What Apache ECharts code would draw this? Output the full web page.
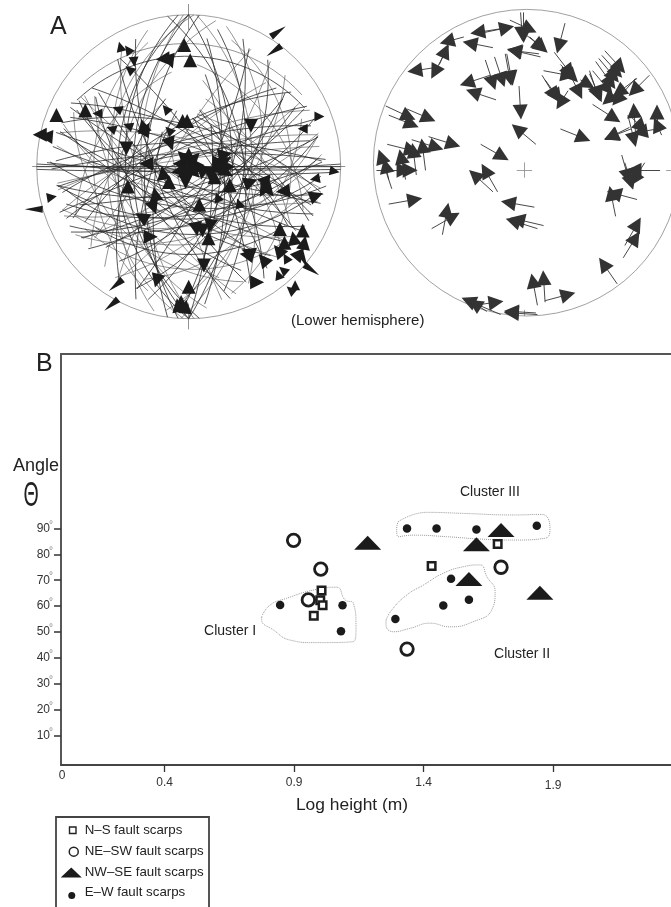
<!DOCTYPE html>
<html><head><meta charset="utf-8">
<style>html,body{margin:0;padding:0;background:#fff}#c{width:671px;height:907px}</style>
<script src="https://cdn.jsdelivr.net/npm/echarts@6/dist/echarts.min.js"></script>
</head><body><div id="c"></div>
<script>
// Panel B: [log height (m), angle theta (deg)]
const nsScarps = [[1.006,66],[1.001,62.3],[1.01,60.3],[0.976,56.3],[1.431,75.5],[1.686,84]];
const neswScarps = [[0.898,85.4],[1.003,74.3],[0.955,62.4],[1.699,75],[1.336,43.4]];
const nwseScarps = [[1.184,84.5],[1.699,89.4],[1.604,83.9],[1.575,70.5],[1.849,65.2]];
const ewScarps = [[0.846,60.4],[1.087,60.3],[1.081,50.3],[1.291,55],[1.476,60.2],[1.575,62.5],[1.506,70.6],[1.336,90],[1.45,90],[1.604,89.6],[1.837,91]];
const clusterI = [[.775,55.9],[.807,60.4],[.871,63],[.974,66.2],[1.064,67.3],[1.097,62.4],[1.129,61.1],[1.139,52],[1.129,46.3],[.974,45.9],[.884,46.9],[.82,50.8],[.775,54.6],[.775,55.9]];
const clusterII = [[1.255,54.6],[1.277,58.5],[1.335,64.3],[1.399,68.1],[1.476,72.7],[1.553,75.2],[1.618,75.9],[1.644,71.4],[1.676,65.6],[1.663,58.5],[1.592,54],[1.502,52],[1.425,53.4],[1.347,51.4],[1.283,50.1],[1.255,52.7],[1.255,54.6]];
const clusterIII = [[1.302,92.6],[1.412,96.2],[1.553,95.8],[1.746,95.2],[1.856,95.4],[1.888,90],[1.869,86.2],[1.746,85.5],[1.618,85.9],[1.489,86.8],[1.36,87.4],[1.302,86.8],[1.296,90],[1.302,92.6]];
const clusterLabels = [[0.653,50.4,'Cluster I'],[1.78,41.5,'Cluster II'],[1.656,104,'Cluster III']];
const angleTicks = [10,20,30,40,50,60,70,80,90];
const heightTicks = [0.4,0.9,1.4,1.9];
const heightLabels = [0,0.4,0.9,1.4,1.9];
const legendNames = ['N–S fault scarps','NE–SW fault scarps','NW–SE fault scarps','E–W fault scarps'];

// Panel A left: fault planes [strike, dip, rake from, rake to] in lower hemisphere
const planesDark = [
 [90,90,0,180],[91,88,0,180],[89,87,0,180],[92,85,4,176],
 [180,50,0,180],[180,40,0,180],[184,58,0,180],[176,45,0,180],[0,58,0,180],[0,72,60,180],[4,66,10,176],[356,64,30,176],[352,50,0,170],[8,50,6,176],[188,66,0,115],
 [105,85,6,174],[108,70,8,172],[112,60,10,170],[100,75,6,174],[118,80,8,172],[122,65,12,170],[128,55,16,168],[135,70,20,165],[140,50,20,160],
 [285,60,8,172],[290,75,10,170],[295,65,8,172],[300,55,78,170],[305,70,12,168],[310,60,70,165],
 [60,70,10,172],[65,60,8,172],[70,50,10,170],[75,75,8,165],[80,55,12,168],[55,65,14,170],[50,75,16,165],[45,60,15,165],
 [240,60,12,168],[245,75,8,172],[250,85,6,174],[255,70,10,170],[260,80,8,170],[235,65,16,165],
 [90,30,35,145],[88,52,10,170],[92,42,15,165],[95,60,6,174],[85,68,8,172],[270,72,8,172],[268,80,6,174],[272,18,30,150],
 [20,60,6,174],[25,75,8,172],[30,50,10,170],[200,65,4,124],[205,50,8,124],[150,70,10,170],[160,65,6,174],[330,60,60,172],[335,70,60,175],[325,75,10,170]
];
const planesLight = [
 [178,55,0,180],[182,34,0,180],[3,45,0,180],[12,40,4,176],[192,42,2,178],[168,38,6,174],
 [102,68,8,172],[115,52,10,170],[125,78,10,172],[130,62,12,168],[145,40,25,160],[282,70,8,172],[292,52,82,170],[315,45,67,160],
 [58,78,10,172],[68,42,12,168],[72,64,8,172],[78,48,10,170],[83,36,20,160],[248,68,8,172],[258,76,8,172],[262,84,8,172],[228,72,15,165],
 [35,70,8,172],[40,50,10,170],[210,75,8,172],[215,60,10,116],[220,45,15,114],[155,55,8,172],[165,80,6,120],[320,55,65,170],[340,50,41,172],
 [94,22,35,145],[0,22,20,160],[180,26,20,160],[274,12,35,145],[225,30,25,124],[315,28,53,155],[135,28,22,160],[45,30,25,155]
];
// Panel A left: arrowheads [east, north, rotation deg] in percent of net radius
const headsLarge = [
 [-3,80,0],[1,70,0],[-17,71,95],[-12,69,200],[-87,34,0],[-68,37,0],[-4,30,0],[-1,30,0],[-30,27,15],[-28,25,-30],[41,27,180],[-98,21,90],[-94,20,85],
 [-12,15,200],[-41,12,180],[-28,2,90],[24,8,-80],[-17,-4,10],[-13,-10,0],[-40,-13,0],[-2,-10,180],[27,-12,0],[41,-10,-70],[-22,-18,10],
 [51,-11,200],[49,-16,150],[53,-16,220],[62,-16,95],[84,-19,-70],[-23,-27,200],[-31,-33,60],[7,-25,0],[-25,-46,-90],[13,-47,0],[9,-42,180],[14,-39,170],[5,-41,190],
 [10,-65,180],[60,-41,0],[75,-42,0],[69,-47,10],[76,-50,-10],[63,-50,0],[59,-55,40],[38,-58,80],[39,-56,70],[49,-61,40],[73,-57,-40],[45,-76,-90],[-21,-75,165],[0,-79,0],[-5,-89,0],[-7,-91,10],[-2,-92,-5],
 [-6,2,90],[-4,7,45],[0,8,0],[4,6,-45],[6,1,-90],[4,-4,-135],[0,-5,180],[-4,-4,135],[-1,2,0],[2,3,-30],[-3,-1,120],[-7,-3,100],[5,-2,-100],
 [20,3,-90],[24,4,-60],[26,0,-90],[22,-2,-120],[18,-1,90],[25,-4,-120],[14,-5,180],[9,-4,170],[17,-7,0]
];
const headsSmall = [
 [-45,79,15],[-40,77,35],[-36,69,185],[-39,64,50],[-60,35,90],[-47,38,70],[-15,38,40],[-51,25,70],[-40,27,70],[75,25,90],[86,33,-90],[-13,24,45],
 [83,-8,100],[96,-3,-100],[-90,-20,-80],[19,-20,20],[33,-24,20],[64,-60,30],[62,-68,50],[59,-71,20],[70,-78,0],[67,-81,50]
];
const headsSlender = [[-102,-28,90],[59,89,-55],[56,76,125],[-48,-78,130],[-51,-91,130],[81,-68,-125],[76,-62,-155]];
const leftTicks = [[[-103,0],[103,0]],[[0,107],[0,90]],[[0,-90],[0,-107]]];

// Panel A right: slip arrows [tail east, tail north, head east, head north]
const slipArrows = [
 [-2,98,-2,83],[-4,98,-3,84],[-11,93,2,87],[-32,84,-13,88],[-13,88,-32,85],[2,82,10,75],[0,83,9,76],[-41,82,-52,79],[-22,75,-37,78],[9,69,-8,73],[8,71,-8,73],[25,91,21,76],
 [-57,64,-53,73],[-60,62,-73,60],[-51,76,-60,59],[-27,67,-22,52],[-21,69,-16,54],[-14,71,-11,55],[-13,71,-10,55],[-24,57,-39,52],[-20,41,-35,46],[-5,50,-4,33],[6,12,-6,22],
 [18,72,28,59],[22,64,30,56],[11,60,27,57],[10,57,18,44],[12,54,20,43],[27,47,22,39],[30,54,34,46],[35,54,40,51],[41,60,46,45],
 [51,73,61,62],[49,70,59,59],[47,68,57,56],[45,66,55,52],[43,60,53,48],[41,58,47,44],[80,57,70,47],[72,55,60,46],[71,55,59,41],[63,50,53,41],
 [43,38,57,29],[22,22,37,16],[68,22,55,17],[67,23,55,17],[66,31,70,15],[71,19,70,34],[68,30,75,23],[85,22,85,33],[88,18,85,25],[85,22,74,20],
 [-92,37,-77,30],[-78,35,-64,29],[-90,31,-75,25],[-75,15,-59,10],[-64,17,-48,12],[-91,12,-75,8],[-66,-5,-68,11],[-72,-8,-74,8],[-79,-11,-82,4],[-88,-17,-95,4],[-90,-11,-92,-2],[-98,-5,-80,-5],[-85,-5,-76,-5],
 [-30,12,-16,4],[-19,-19,-27,-5],[-22,-19,-34,-8],[-90,-27,-73,-24],[5,-29,-12,-26],[11,-41,-6,-37],[7,-43,-9,-38],[-62,-43,-48,-35],[-55,-47,-52,-31],
 [87,-5,70,-5],[77,0,70,-11],[62,5,66,-9],[64,0,68,-13],[72,-24,57,-20],[58,-35,55,-20],[64,-54,72,-40],[63,-62,71,-49],[59,-79,50,-66],
 [7,-93,4,-77],[12,-91,11,-75],[12,-90,27,-86],[-17,-99,-38,-90],[-26,-97,-34,-92],[-34,-93,-20,-91],[7,-99,-10,-98],[6,-98,-10,-97]
];
const rightTicks = [[[-6.5,-4.8],[3.5,-4.8]],[[-1.5,0.2],[-1.5,-9.8]],[[91,-4.8],[94,-4.8]],[[-1.5,-100],[-1.5,-96]]];

function planeToLine(p){
  const s=p[0]*Math.PI/180,d=p[1]*Math.PI/180,pts=[];
  for(let r=p[2];r<=p[3];r+=4){
    const a=r*Math.PI/180,c=Math.cos(a),n=Math.sin(a);
    const e=Math.sin(s)*c+Math.cos(s)*Math.cos(d)*n;
    const no=Math.cos(s)*c-Math.sin(s)*Math.cos(d)*n;
    const dn=Math.sin(d)*n;
    pts.push([100*e/(1+dn),100*no/(1+dn)]);
  }
  return {coords:pts};
}
const FONT='"Liberation Sans",Arial,sans-serif';
const hidden=(i,mn,mx)=>({gridIndex:i,type:'value',min:mn,max:mx,show:false,splitLine:{show:false}});
const rotHead=v=>v[2];
const headSeries=(data,size)=>({type:'scatter',xAxisIndex:0,yAxisIndex:0,data,symbol:'triangle',symbolSize:size,symbolRotate:rotHead,encode:{x:0,y:1},itemStyle:{color:'#1b1b1b',opacity:1},silent:true,z:5});
const ring=(i,r)=>({type:'scatter',xAxisIndex:i,yAxisIndex:i,data:[[0,0]],symbol:'circle',symbolSize:r*2,itemStyle:{color:'transparent',borderColor:'#8a8a8a',borderWidth:1},silent:true,z:1,clip:false});
const net=(i,data,color,width,extra)=>Object.assign({type:'lines',coordinateSystem:'cartesian2d',xAxisIndex:i,yAxisIndex:i,data,silent:true,lineStyle:{color,width,opacity:1,curveness:0}},extra||{});
const dotted=d=>({type:'line',xAxisIndex:2,yAxisIndex:2,data:d,smooth:0.5,showSymbol:false,symbol:'none',silent:true,lineStyle:{color:'#9a9a9a',width:1,type:'dotted'},z:2});
const icon={
 s:'path://M0 0M21 14M8.75 3.75h6.5v6.5h-6.5z',
 o:'path://M0 0M21 14M8.5 7a4.5 4.5 0 1 0 9 0a4.5 4.5 0 1 0 -9 0z',
 t:'path://M0 0M21 14M0 12L10.5 2L21 12z',
 d:'path://M0 0M21 14M7.5 10a3.5 3.5 0 1 0 7 0a3.5 3.5 0 1 0 -7 0z'
};
const chart=echarts.init(document.getElementById('c'),null,{renderer:'canvas'});
chart.setOption({
 animation:false,
 backgroundColor:'#fff',
 textStyle:{fontFamily:FONT},
 grid:[
  {left:13.9,width:349.6,top:1,height:331.4},
  {left:350.4,width:320.6,top:1.7,height:322},
  {left:61,width:610,top:354,height:411}
 ],
 xAxis:[hidden(0,-115,115),hidden(1,-115,94.13),
  {gridIndex:2,type:'value',position:'bottom',min:0,max:2.3552,splitLine:{show:false},axisLine:{show:true,onZero:false,lineStyle:{color:'#444',width:1.8}},
   axisTick:{show:true,length:7,customValues:heightTicks,lineStyle:{color:'#333',width:1.3}},
   axisLabel:{show:true,customValues:heightLabels,margin:4,hideOverlap:false,showMinLabel:true,
    formatter:v=>v===0?'{z|0}':(v===1.9?'{l|1.9}':'{n|'+v+'}'),
    rich:{z:{fontSize:12,color:'#333',fontFamily:FONT,padding:[1,0,0,2]},n:{fontSize:12,color:'#333',fontFamily:FONT,padding:[8,0,0,0]},l:{fontSize:12,color:'#333',fontFamily:FONT,padding:[11,0,0,0]}}},
   name:'Log height (m)',nameLocation:'middle',nameGap:32,nameTextStyle:{fontSize:17.4,color:'#222',fontFamily:FONT,padding:[0,0,0,-28]}},
  {gridIndex:2,type:'value',position:'top',min:0,max:2.3552,splitLine:{show:false},axisLine:{show:true,onZero:false,lineStyle:{color:'#555',width:1.8}},axisTick:{show:false},axisLabel:{show:false}}
 ],
 yAxis:[hidden(0,-109,109),hidden(1,-105,105),
  {gridIndex:2,type:'value',min:-1.35,max:157.34,splitLine:{show:false},axisLine:{show:true,onZero:false,lineStyle:{color:'#444',width:1.8}},
   axisTick:{show:true,length:7,customValues:angleTicks,lineStyle:{color:'#333',width:1.5}},
   axisLabel:{show:true,customValues:angleTicks,margin:8,formatter:v=>'{n|'+v+'}{d|°}',
    rich:{n:{fontSize:12,color:'#333',fontFamily:FONT},d:{fontSize:10,color:'#8a8a8a',fontFamily:FONT,verticalAlign:'bottom',padding:[0,0,7,-1]}}}}
 ],
 legend:{show:true,left:56,top:817,orient:'vertical',itemWidth:21,itemHeight:14,itemGap:6,itemStyle:{borderWidth:0},
  padding:[5.5,6,4,4],selectedMode:false,textStyle:{fontSize:13.3,color:'#222',fontFamily:FONT,padding:[0,0,0,-2]},
  data:[
   {name:legendNames[0],icon:icon.s,itemStyle:{color:'#fff',borderColor:'#222',borderWidth:1.4}},
   {name:legendNames[1],icon:icon.o,itemStyle:{color:'#fff',borderColor:'#222',borderWidth:1.5}},
   {name:legendNames[2],icon:icon.t,itemStyle:{color:'#1b1b1b',borderWidth:0}},
   {name:legendNames[3],icon:icon.d,itemStyle:{color:'#1b1b1b',borderWidth:0}}
  ]},
 graphic:[
  {type:'polyline',shape:{points:[[56,908],[56,817],[209,817],[209,908]]},style:{stroke:'#444',lineWidth:1.8,fill:null}},
  {type:'text',x:50,y:15,style:{text:'A',font:'25px '+FONT,fill:'#222'}},
  {type:'text',x:36,y:352,style:{text:'B',font:'25px '+FONT,fill:'#222'}},
  {type:'text',x:291,y:313,style:{text:'(Lower hemisphere)',font:'15px '+FONT,fill:'#222'}},
  {type:'text',x:13,y:457,style:{text:'Angle',font:'18px '+FONT,fill:'#222'}},
  {type:'text',x:31,y:496,scaleX:0.56,style:{text:'Θ',font:'35px '+FONT,fill:'#222',align:'center',verticalAlign:'middle'}}
 ],
 series:[
  ring(0,152),ring(1,153.3),
  net(0,planesLight.map(planeToLine),'#666',0.7,{polyline:true,z:2}),
  net(0,planesDark.map(planeToLine),'#2a2a2a',0.8,{polyline:true,z:3}),
  net(0,leftTicks.map(c=>({coords:c})),'#777',0.8,{z:2}),
  headSeries(headsLarge,14),headSeries(headsSmall,10),headSeries(headsSlender,[7,18]),
  net(1,rightTicks.map(c=>({coords:c})),'#888',0.8,{z:2}),
  net(1,slipArrows.map(a=>({coords:[[a[0],a[1]],[a[2],a[3]]]})),'#333',0.9,{z:4,symbol:['none','triangle'],symbolSize:15,itemStyle:{color:'#1b1b1b'}}),
  dotted(clusterI),dotted(clusterII),dotted(clusterIII),
  {type:'scatter',xAxisIndex:2,yAxisIndex:2,data:clusterLabels,symbolSize:0,silent:true,encode:{x:0,y:1},
   itemStyle:{opacity:1},label:{show:true,position:'inside',formatter:p=>p.value[2],fontSize:14,color:'#222',fontFamily:FONT}},
  {name:legendNames[1],type:'scatter',xAxisIndex:2,yAxisIndex:2,data:neswScarps,symbol:'circle',symbolSize:12.5,itemStyle:{color:'#fff',borderColor:'#1e1e1e',borderWidth:2.8,opacity:1},z:3},
  {name:legendNames[0],type:'scatter',xAxisIndex:2,yAxisIndex:2,data:nsScarps,symbol:'rect',symbolSize:7.5,itemStyle:{color:'#fff',borderColor:'#1e1e1e',borderWidth:2.5,opacity:1},z:4},
  {name:legendNames[2],type:'scatter',xAxisIndex:2,yAxisIndex:2,data:nwseScarps,symbol:'triangle',symbolSize:[27,14],itemStyle:{color:'#1b1b1b',opacity:1},z:4},
  {name:legendNames[3],type:'scatter',xAxisIndex:2,yAxisIndex:2,data:ewScarps,symbol:'circle',symbolSize:8.5,itemStyle:{color:'#1b1b1b',opacity:1},z:4}
 ]
});
</script></body></html>
